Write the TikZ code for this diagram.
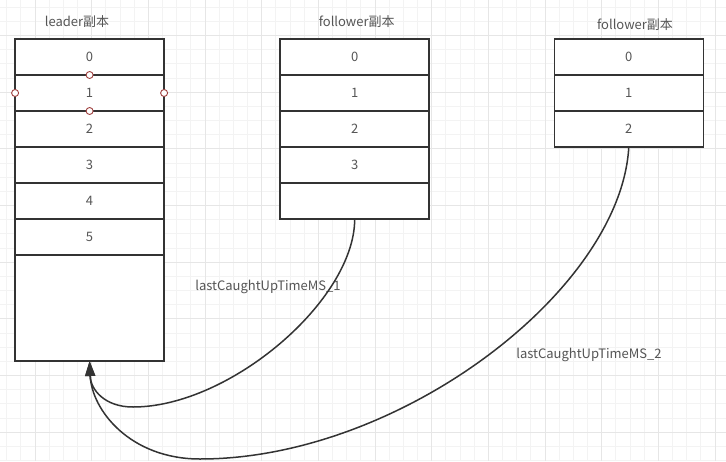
\documentclass[tikz,border=0pt]{standalone}
\usepackage{fontspec}
\setmainfont{Noto Sans CJK SC}
\usetikzlibrary{arrows.meta}
\definecolor{linec}{HTML}{333333}
\definecolor{textc}{HTML}{555555}
\definecolor{gridminor}{HTML}{F3F3F3}
\definecolor{gridmajor}{HTML}{E6E6E6}
\definecolor{handlec}{HTML}{A0413F}
\tikzset{
  txt/.style={text=textc, font=\fontsize{13}{15}\selectfont},
  cell/.style={txt, draw=linec, fill=white, line width=1.6pt, minimum width=149pt,
    minimum height=36pt, inner sep=0pt, outer sep=0pt},
  title/.style={txt, inner sep=0pt},
  lbl/.style={txt, inner sep=0pt},
  handle/.style={circle, draw=handlec, fill=white, line width=0.9pt, minimum size=7pt, inner sep=0pt},
  conn/.style={draw=linec, line width=1.5pt, -{Triangle[length=15pt,width=10pt]}},
  minorg/.style={draw=gridminor, line width=1pt},
  majorg/.style={draw=gridmajor, line width=1pt}
}
\begin{document}
\begin{tikzpicture}[x=1pt,y=-1pt]
\useasboundingbox (0,0) rectangle (726,461);
\fill[white] (0,0) rectangle (726,461);
% grid
\foreach \i in {-3,...,52} { \draw[minorg] ({35+14.1667*\i},0) -- ++(0,461); }
\foreach \i in {-3,...,31} { \draw[minorg] (0,{35.6+14.1667*\i}) -- ++(726,0); }
\foreach \i in {-1,...,13} { \draw[majorg] ({35+56.667*\i},0) -- ++(0,461); }
\foreach \i in {-1,...,8} { \draw[majorg] (0,{35.6+56.667*\i}) -- ++(726,0); }
% titles
\node[title] (tL) at (77,22) {leader副本};
\node[title] (tF1) at (356.7,22) {follower副本};
\node[title] (tF2) at (635,25) {follower副本};
% leader
\node[cell] (L0) at (89.6,57) {0};
\node[cell] (L1) at (89.6,93) {1};
\node[cell] (L2) at (89.6,129) {2};
\node[cell] (L3) at (89.6,165) {3};
\node[cell] (L4) at (89.6,201) {4};
\node[cell] (L5) at (89.6,237) {5};
\node[cell, minimum height=106pt] (Lb) at (89.6,308) {};
% follower 1
\node[cell] (F0) at (354.7,57) {0};
\node[cell] (F1) at (354.7,93) {1};
\node[cell] (F2) at (354.7,129) {2};
\node[cell] (F3) at (354.7,165) {3};
\node[cell] (Fe) at (354.7,201) {};
% follower 2
\node[cell] (G0) at (628.8,57) {0};
\node[cell] (G1) at (628.8,93) {1};
\node[cell] (G2) at (628.8,129) {2};
% handles
\node[handle] (h1) at (L0.south) {};
\node[handle] (h2) at (L1.south) {};
\node[handle] (h3) at (L1.west) {};
\node[handle] (h4) at (L1.east) {};
% labels
\node[lbl] (m1) at (268,287) {lastCaughtUpTimeMS\_1};
\node[lbl] (m2) at (589,355) {lastCaughtUpTimeMS\_2};
% connectors
\coordinate (v1) at (133,407);
\coordinate (v2) at (200,459);
\draw[conn] (Fe.south) .. controls +(0,81) and +(97,0) .. (v1)
  .. controls +(-28,0) and +(1,29) .. (Lb.south);
\draw[conn] (G2.south) .. controls +(-8,143) and +(200,0) .. (v2)
  .. controls +(-70,0) and +(2,49) .. (Lb.south);
\end{tikzpicture}
\end{document}
